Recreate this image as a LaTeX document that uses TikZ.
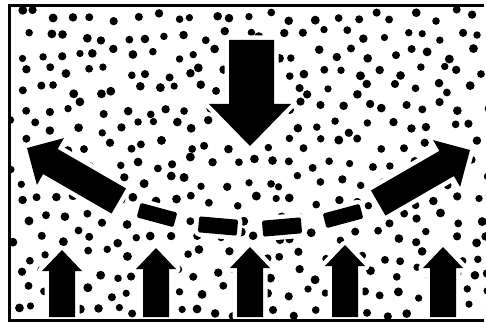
\documentclass[tikz,border=0pt]{standalone}
\begin{document}
\begin{tikzpicture}[x=1pt,y=-1pt,
  blk/.style={fill=black, preaction={draw=white, line width=9pt, line join=round}},
  frameline/.style={draw=black, line width=3pt, line cap=butt}]
\useasboundingbox (0,0) rectangle (486,323);
% dots
\begin{scope}
\clip (11,8) rectangle (486,318);
\pgfmathsetseed{4711}
\foreach \i in {0,...,24} {
  \foreach \j in {0,...,16} {
    \pgfmathsetmacro\xx{17+\i*19.8+mod(\j,2)*9.9+rand*7}
    \pgfmathsetmacro\yy{16+\j*18.4+rand*6.5}
    \pgfmathsetmacro\rr{3.6+rnd*0.9}
    \fill (\xx,\yy) circle[radius=\rr];
  }
}
\end{scope}
% big down arrow
\path[blk] (229,40) -- (274,40) -- (274,104) -- (291,104) -- (250,146) -- (209,104) -- (229,104) -- cycle;
% diagonal arrows
\begin{scope}[shift={(27,148)}, rotate=-30]
  \path[blk] (0,0) -- (27,27) -- (27,14.5) -- (106,14.5) -- (106,-14.5) -- (27,-14.5) -- (27,-27) -- cycle;
\end{scope}
\begin{scope}[shift={(470,150)}, rotate=210]
  \path[blk] (0,0) -- (27,27) -- (27,14.5) -- (106,14.5) -- (106,-14.5) -- (27,-14.5) -- (27,-27) -- cycle;
\end{scope}
% dashes
\begin{scope}[shift={(157,215)}, rotate=-15]
  \path[blk, rounded corners=1.5pt] (-19,-7.5) rectangle (19,7.5);
\end{scope}
\begin{scope}[shift={(218,226)}, rotate=-5]
  \path[blk, rounded corners=1.5pt] (-19.5,-8) rectangle (19.5,8);
\end{scope}
\begin{scope}[shift={(282,227)}, rotate=5]
  \path[blk, rounded corners=1.5pt] (-19.5,-8) rectangle (19.5,8);
\end{scope}
\begin{scope}[shift={(343,216)}, rotate=15]
  \path[blk, rounded corners=1.5pt] (-19,-7.5) rectangle (19,7.5);
\end{scope}
% bottom arrows
\foreach \cx/\ty in {62/250, 156/248, 250/247, 345/245, 443/247} {
  \path[blk] (\cx,\ty) -- ({\cx+20},{\ty+21}) -- ({\cx+13},{\ty+21}) -- ({\cx+13},317) -- ({\cx-13},317) -- ({\cx-13},{\ty+21}) -- ({\cx-20},{\ty+21}) -- cycle;
}
% frame
\draw[frameline] (484,5.5) -- (9.5,5.5) -- (9.5,320.5) -- (484,320.5);
\end{tikzpicture}
\end{document}
